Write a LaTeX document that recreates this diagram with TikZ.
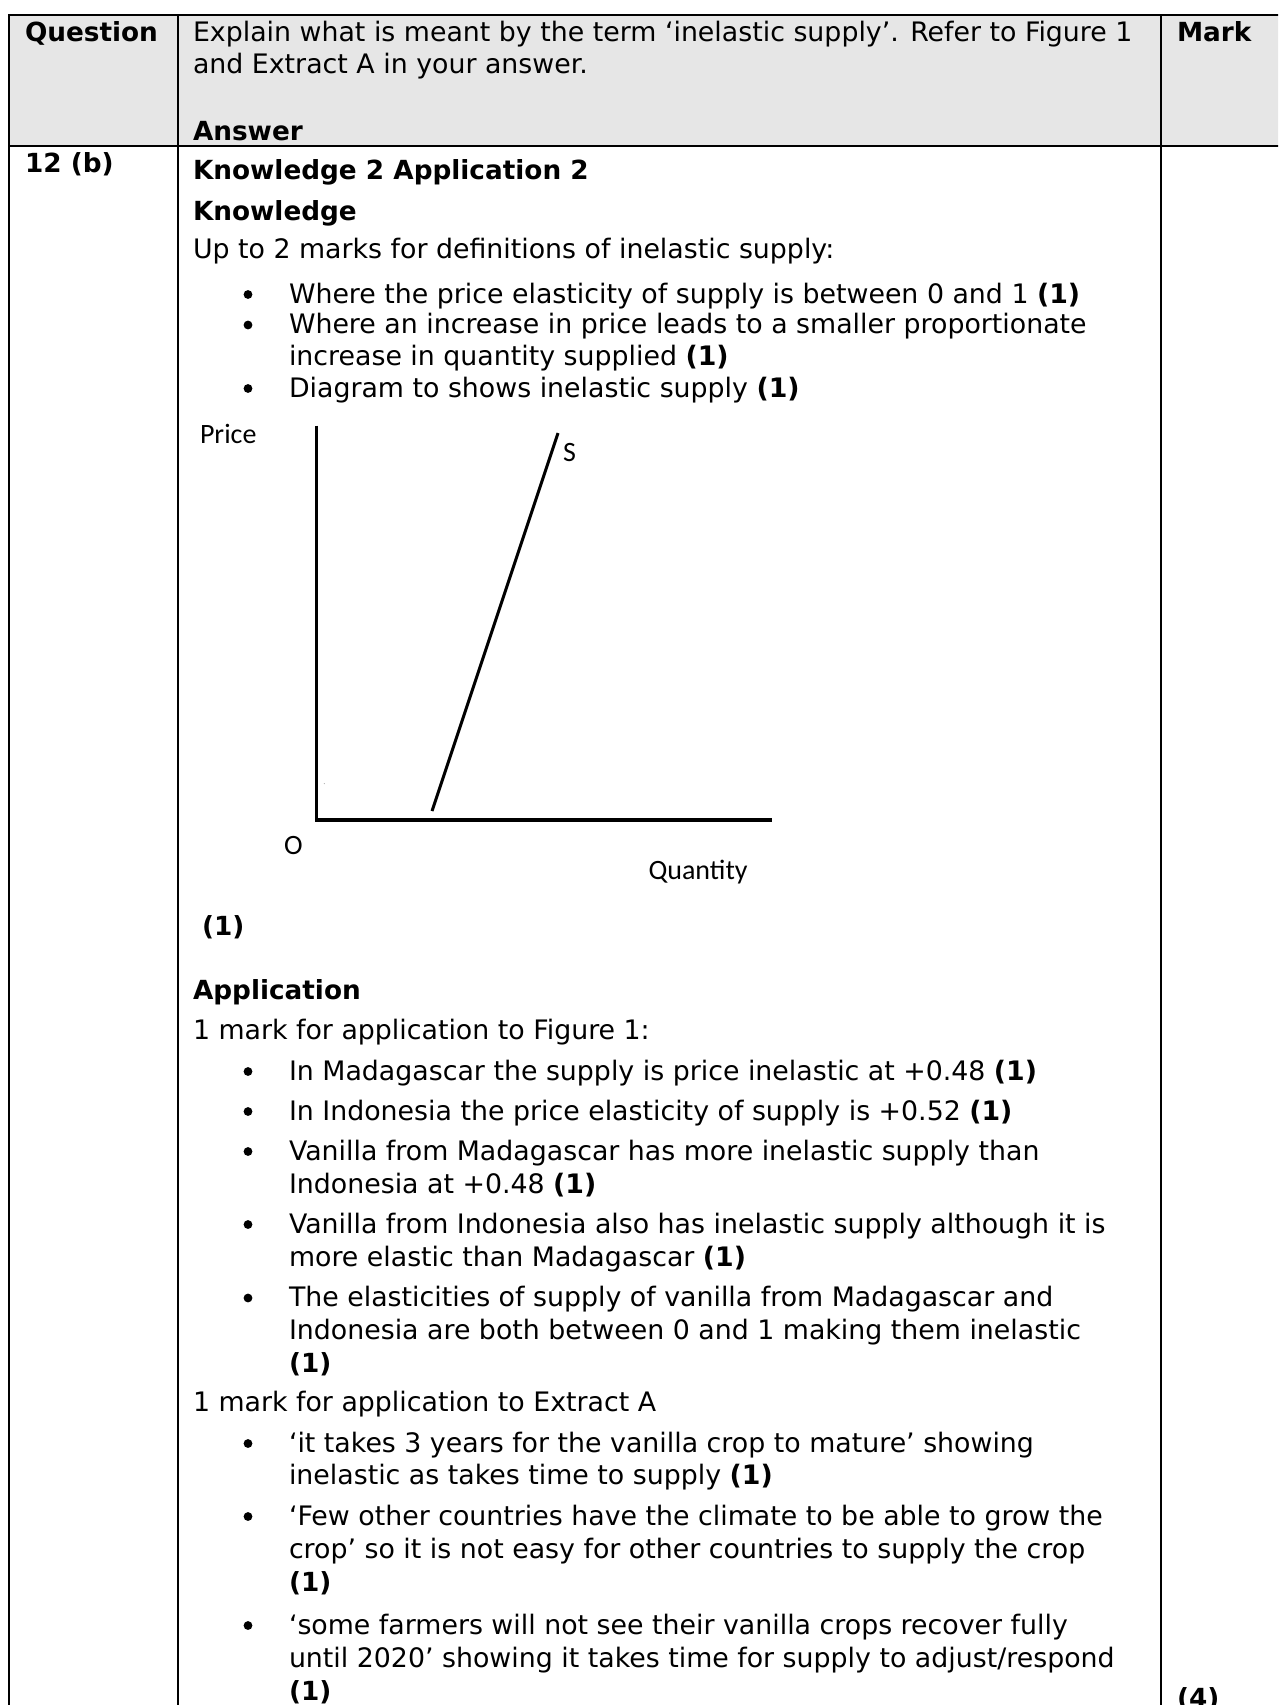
\documentclass[tikz,border=0pt]{standalone}
\usepackage{fontspec}
\setmainfont{DejaVu Sans}
\newfontfamily\calfont{Carlito}
\definecolor{hdrgray}{HTML}{E6E6E6}
\tikzset{
  tx/.style={anchor=base west, inner sep=0pt, outer sep=0pt, font=\fontsize{26.8}{32}\selectfont},
  bx/.style={tx, font=\fontsize{26.3}{32}\selectfont\bfseries},
  lab/.style={anchor=base west, inner sep=0pt, outer sep=0pt, font=\calfont\fontsize{28}{32}\selectfont},
  rule/.style={line width=2pt, black},
  axis/.style={line width=3.5pt, black},
  supply/.style={line width=3pt, black},
  bul/.style={fill=black, draw=none}
}
\begin{document}
\begin{tikzpicture}[x=1pt, y=-1pt]
\useasboundingbox (0,0) rectangle (1278,1705);
\clip (0,0) rectangle (1278,1705);
\fill[white] (0,0) rectangle (1278,1705);
% header background
\fill[hdrgray] (8.5,15) rectangle (1290,146);
% table rules
\draw[rule] (8.5,1720) -- (8.5,15) -- (1290,15);
\draw[rule] (8.5,146) -- (1290,146);
\draw[rule] (178,15) -- (178,1720);
\draw[rule] (1161,15) -- (1161,1720);

% header texts
\node[bx] (hq) at (25,41.5) {Question};
\node[tx] (h1) at (193,41.5) {Explain what is meant by the term ‘inelastic supply’. Refer to Figure 1};
\node[tx] (h2) at (193,73) {and Extract A in your answer.};
\node[bx] (hans) at (193,140) {Answer};
\node[bx] (hmark) at (1177,41.5) {Mark};

% row
\node[bx] (qno) at (25,172) {12 (b)};
\node[bx] (k2) at (193,179) {Knowledge 2 Application 2};
\node[bx] (kh) at (193,220) {Knowledge};
\node[tx] (kint) at (193,258) {Up to 2 marks for definitions of inelastic supply:};

\fill[bul] (248,294.5) circle (4.4);
\node[tx] (ka) at (289,303) {Where the price elasticity of supply is between 0 and 1 \textbf{(1)}};
\fill[bul] (248,325) circle (4.4);
\node[tx] (kb1) at (289,333.5) {Where an increase in price leads to a smaller proportionate};
\node[tx] (kb2) at (289,365) {increase in quantity supplied \textbf{(1)}};
\fill[bul] (248,388.5) circle (4.4);
\node[tx] (kc) at (289,397) {Diagram to shows inelastic supply \textbf{(1)}};

% diagram
\coordinate (ytop) at (316.5,425.5);
\coordinate (orig) at (316.5,820);
\coordinate (xend) at (772,820);
\coordinate (sbot) at (432,811);
\coordinate (stop) at (558,433);
\draw[axis] (ytop) -- (orig) -- (xend);
\draw[supply] (sbot) -- (stop);
\fill[gray!60] (324.3,783.6) circle (0.6);
\node[lab] (lprice) at (200,443.5) {Price};
\node[lab] (ls) at (563,461) {S};
\node[lab] (lo) at (284,854) {O};
\node[lab] (lqty) at (648.5,879) {Quantity};
\node[bx] (dmark) at (202,935) {(1)};

% application
\node[bx] (ah) at (193,999.5) {Application};
\node[tx] (aint) at (193,1039.5) {1 mark for application to Figure 1:};
\fill[bul] (248,1071.5) circle (4.4);
\node[tx] (a1) at (289,1080) {In Madagascar the supply is price inelastic at +0.48 \textbf{(1)}};
\fill[bul] (248,1111.5) circle (4.4);
\node[tx] (a2) at (289,1120) {In Indonesia the price elasticity of supply is +0.52 \textbf{(1)}};
\fill[bul] (248,1151.5) circle (4.4);
\node[tx] (a3a) at (289,1160) {Vanilla from Madagascar has more inelastic supply than};
\node[tx] (a3b) at (289,1193) {Indonesia at +0.48 \textbf{(1)}};
\fill[bul] (248,1224.5) circle (4.4);
\node[tx] (a4a) at (289,1233) {Vanilla from Indonesia also has inelastic supply although it is};
\node[tx] (a4b) at (289,1266.5) {more elastic than Madagascar \textbf{(1)}};
\fill[bul] (248,1298) circle (4.4);
\node[tx] (a5a) at (289,1306.5) {The elasticities of supply of vanilla from Madagascar and};
\node[tx] (a5b) at (289,1339.5) {Indonesia are both between 0 and 1 making them inelastic};
\node[bx] (a5c) at (289,1372) {(1)};

\node[tx] (eint) at (193,1411.5) {1 mark for application to Extract A};
\fill[bul] (248,1443.5) circle (4.4);
\node[tx] (e1a) at (289,1452) {‘it takes 3 years for the vanilla crop to mature’ showing};
\node[tx] (e1b) at (289,1484.5) {inelastic as takes time to supply \textbf{(1)}};
\fill[bul] (248,1516.5) circle (4.4);
\node[tx] (e2a) at (289,1525) {‘Few other countries have the climate to be able to grow the};
\node[tx] (e2b) at (289,1558) {crop’ so it is not easy for other countries to supply the crop};
\node[bx] (e2c) at (289,1591.5) {(1)};
\fill[bul] (248,1625.5) circle (4.4);
\node[tx] (e3a) at (289,1634) {‘some farmers will not see their vanilla crops recover fully};
\node[tx] (e3b) at (289,1667) {until 2020’ showing it takes time for supply to adjust/respond};
\node[bx] (e3c) at (289,1700) {(1)};

\node[bx] (tot) at (1177,1707) {(4)};
\end{tikzpicture}
\end{document}
